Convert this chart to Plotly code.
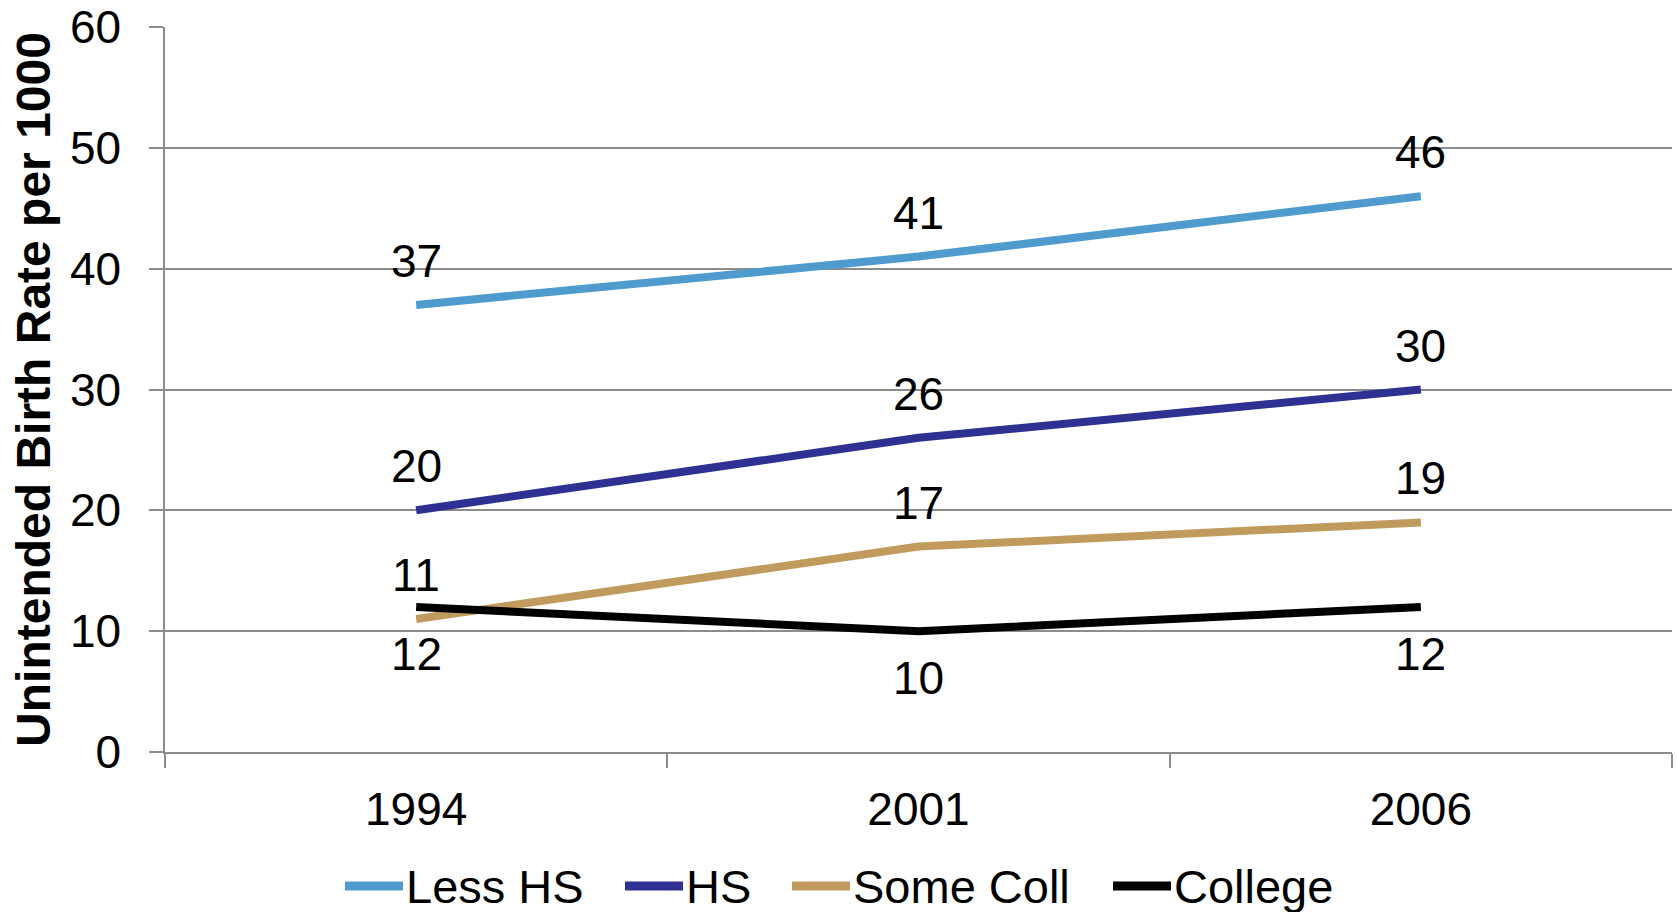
import plotly.graph_objects as go

# Unintended birth rate per 1000 by mother's education
years = ["1994", "2001", "2006"]
less_hs = [37, 41, 46]
hs = [20, 26, 30]
some_coll = [11, 17, 19]
college = [12, 10, 12]

series_names = ["Less HS", "HS", "Some Coll", "College"]
series_values = [less_hs, hs, some_coll, college]
label_side = ["above", "above", "above", "below"]
y_ticks = [0, 10, 20, 30, 40, 50, 60]

colors = ["#4F9BCE", "#2E3192", "#C19B5E", "#000000"]
FONT = "Liberation Sans, Arial, sans-serif"
GRID = "#8C8C8C"

W, H = 1677, 912
M_L, M_R, M_T, M_B = 165, 5, 27, 160
plot_w = W - M_L - M_R
plot_h = H - M_T - M_B

fig = go.Figure()
annotations = []

for name, vals, color, side in zip(series_names, series_values, colors, label_side):
    fig.add_trace(go.Scatter(
        x=years, y=vals, mode="lines", name=name,
        line=dict(color=color, width=8),
        showlegend=False, hoverinfo="x+y+name",
    ))
    # value labels; category positions are given by index on the category axis
    for i, v in enumerate(vals):
        annotations.append(dict(
            x=i, y=v, xref="x", yref="y", text=str(v), showarrow=False,
            xanchor="center", yanchor="middle",
            yshift=44 if side == "above" else -47,
            font=dict(family=FONT, size=46, color="#000000"),
        ))

# Legend row below the axis: thick swatch followed by the series name
legend_y_px = 886
legend_starts_px = [345, 625, 792, 1113]
swatch_len = 58
shapes = []
for name, color, x0 in zip(series_names, colors, legend_starts_px):
    yp = (H - M_B - legend_y_px) / plot_h
    shapes.append(dict(
        type="line", xref="paper", yref="paper",
        x0=(x0 - M_L) / plot_w, x1=(x0 + swatch_len - M_L) / plot_w,
        y0=yp, y1=yp, line=dict(color=color, width=9),
    ))
    annotations.append(dict(
        x=(x0 + swatch_len + 1 - M_L) / plot_w, y=yp, xref="paper", yref="paper",
        text=name, showarrow=False, xanchor="left", yanchor="middle",
        font=dict(family=FONT, size=47, color="#000000"),
    ))

fig.update_layout(
    width=W, height=H,
    margin=dict(l=M_L, r=M_R, t=M_T, b=M_B, autoexpand=False),
    paper_bgcolor="white", plot_bgcolor="white",
    font=dict(family=FONT, color="#000000"),
    showlegend=False,
    annotations=annotations,
    shapes=shapes,
    xaxis=dict(
        type="category", range=[-0.5, 2.5], automargin=False,
        tickson="boundaries", ticks="outside", ticklen=14, tickwidth=1.5,
        tickcolor=GRID, showline=True, linecolor=GRID, linewidth=1.5,
        showgrid=False, zeroline=False,
        tickfont=dict(family=FONT, size=46, color="#000000"),
        ticklabelstandoff=16,
    ),
    yaxis=dict(
        range=[0, 60], tickvals=y_ticks, automargin=False,
        ticks="outside", ticklen=14, tickwidth=1.5, tickcolor=GRID,
        showline=True, linecolor=GRID, linewidth=1.5,
        showgrid=True, gridcolor=GRID, gridwidth=1.5, zeroline=False,
        tickfont=dict(family=FONT, size=46, color="#000000"),
        ticklabelstandoff=19,
        title=dict(
            text="<b>Unintended Birth Rate per 1000</b>",
            font=dict(family=FONT, size=48, color="#000000"),
            standoff=4,
        ),
    ),
)

fig.write_html("out.html")
